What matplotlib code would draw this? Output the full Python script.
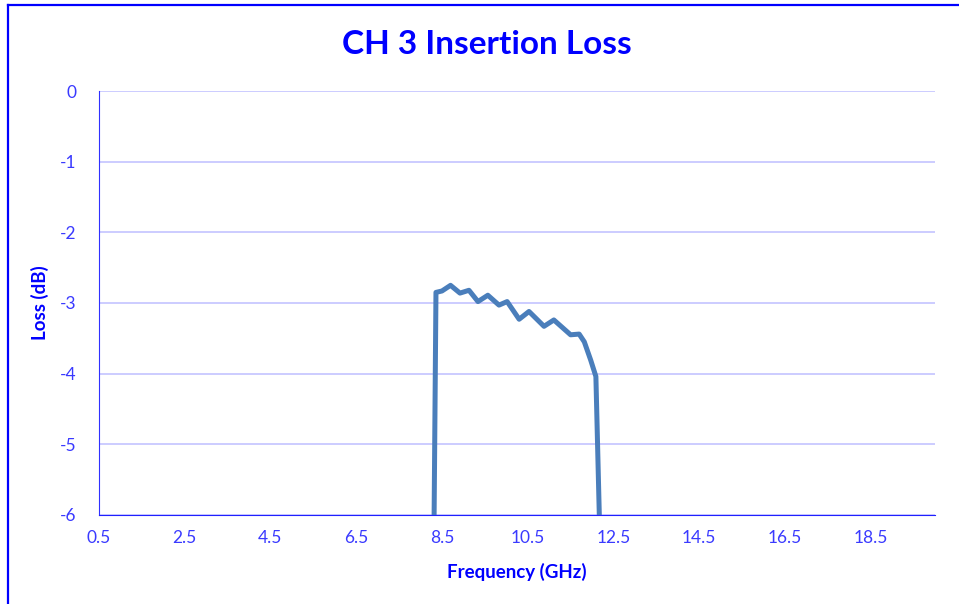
import matplotlib
matplotlib.use("Agg")
from matplotlib import pyplot as plt
from matplotlib.lines import Line2D

plt.rcParams["font.family"] = ["Lato", "DejaVu Sans"]
plt.rcParams["axes.unicode_minus"] = False

# readings (GHz, dB)
freq = [8.31, 8.36, 8.50, 8.70, 8.92, 9.13, 9.34, 9.57, 9.83, 10.02,
        10.30, 10.53, 10.88, 11.11, 11.50, 11.70, 11.82, 11.97, 12.09, 12.19]
loss = [-6.5, -2.85, -2.83, -2.75, -2.86, -2.82, -2.98, -2.89, -3.03, -2.98,
        -3.23, -3.12, -3.33, -3.24, -3.45, -3.44, -3.55, -3.81, -4.04, -6.5]
xticks = [0.5, 2.5, 4.5, 6.5, 8.5, 10.5, 12.5, 14.5, 16.5, 18.5]
yticks = [0, -1, -2, -3, -4, -5, -6]

blue = "#0000ff"
tickc = "#3a3aff"

fig = plt.figure(figsize=(9.59, 6.04), dpi=100)
ax = fig.add_axes([0.1032, 0.1474, 0.8718, 0.7019])

ax.plot(freq, loss, color="#4a7ebb", lw=3.6, solid_joinstyle="round", solid_capstyle="round")
ax.set_xlim(0.5, 20.0)
ax.set_ylim(-6, 0)
ax.set_xticks(xticks)
ax.set_xticklabels([str(t) for t in xticks])
ax.set_yticks(yticks)
ax.grid(axis="y", color="#c4c4ff", lw=1.2)
ax.set_axisbelow(True)
for s in ("top", "right"):
    ax.spines[s].set_visible(False)
ax.spines["left"].set_color("#3030ff")
ax.spines["bottom"].set_color("#2020ff")
ax.tick_params(length=0, colors=tickc, labelsize=12.5)
ax.tick_params(axis="y", pad=16)
ax.tick_params(axis="x", pad=11)

fig.text(487 / 959, 1 - 45 / 604, "CH 3 Insertion Loss", color=blue, fontsize=24,
         fontweight="bold", ha="center", va="center")
ax.set_xlabel("Frequency (GHz)", color=blue, fontsize=13.5, fontweight="bold", labelpad=12)
ax.set_ylabel("Loss (dB)", color=blue, fontsize=13.5, fontweight="bold", labelpad=8)

# chart frame (only left and top edges visible)
fig.add_artist(Line2D([7.5 / 959, 7.5 / 959], [0, 1 - 4.5 / 604], color=blue, lw=1.6))
fig.add_artist(Line2D([7.5 / 959, 1], [1 - 4.5 / 604, 1 - 4.5 / 604], color=blue, lw=1.6))

fig.savefig("out.png", dpi=100)
